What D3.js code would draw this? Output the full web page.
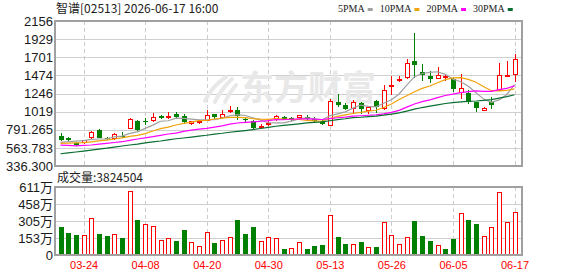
<!DOCTYPE html>
<html>
<head>
<meta charset="utf-8">
<script src="https://cdn.jsdelivr.net/npm/d3@7"></script>
<style>
  body { margin: 0; background: #fff; }
  svg { display: block; }
</style>
</head>
<body>
<div id="chart"></div>
<script>
// Daily candles, one entry per trading day
const dates = [
    "03-19", "03-20", "03-23", "03-24", "03-25", "03-26", "03-27", "03-30", "03-31", "04-01",
    "04-02", "04-08", "04-09", "04-10", "04-13", "04-14", "04-15", "04-16", "04-17", "04-20",
    "04-21", "04-22", "04-23", "04-24", "04-27", "04-28", "04-29", "04-30", "05-04", "05-05",
    "05-06", "05-07", "05-08", "05-11", "05-12", "05-13", "05-14", "05-15", "05-18", "05-19",
    "05-20", "05-21", "05-22", "05-26", "05-27", "05-28", "05-29", "06-01", "06-02", "06-03",
    "06-04", "06-05", "06-08", "06-09", "06-10", "06-11", "06-12", "06-15", "06-16", "06-17"
];
const opens = [
    717, 692, 621, 629, 692, 792, 692, 684, 717, 809,
    901, 905, 910, 964, 951, 995, 970, 872, 876, 910,
    985, 948, 1023, 1043, 930, 905, 826, 855, 930, 955,
    935, 951, 948, 926, 901, 847, 1140, 1098, 1060, 1123,
    1039, 1152, 1060, 1328, 1407, 1450, 1654, 1512, 1466, 1437,
    1450, 1424, 1261, 1256, 1143, 1039, 1136, 1286, 1466, 1487
];
const highs = [
    747, 704, 634, 666, 776, 804, 704, 747, 759, 935,
    910, 935, 998, 976, 1010, 1014, 985, 905, 901, 1039,
    993, 1043, 1089, 1077, 939, 917, 867, 905, 973, 964,
    955, 976, 976, 955, 914, 1181, 1240, 1123, 1165, 1143,
    1080, 1165, 1353, 1466, 1470, 1675, 2009, 1613, 1529, 1579,
    1478, 1437, 1487, 1286, 1143, 1081, 1198, 1633, 1654, 1742
];
const lows = [
    650, 641, 591, 616, 679, 684, 666, 663, 684, 804,
    779, 851, 892, 930, 926, 932, 860, 851, 863, 901,
    930, 935, 1001, 917, 892, 792, 804, 838, 905, 910,
    897, 939, 905, 889, 847, 835, 1073, 1039, 1005, 989,
    985, 998, 1039, 1227, 1387, 1428, 1444, 1403, 1374, 1428,
    1403, 1269, 1177, 1118, 1018, 1030, 1048, 1274, 1457, 1387
];
const closes = [
    666, 662, 604, 654, 759, 692, 675, 734, 700, 926,
    792, 889, 939, 942, 960, 951, 885, 889, 890, 968,
    951, 985, 1039, 960, 917, 809, 835, 872, 960, 912,
    914, 973, 930, 905, 863, 1152, 1106, 1055, 1136, 1055,
    1076, 1073, 1281, 1349, 1424, 1625, 1608, 1478, 1424, 1466,
    1462, 1306, 1311, 1136, 1060, 1064, 1102, 1466, 1478, 1667
];
const volumes = [
    2530000, 1970000, 1790000, 1760000, 3280000, 1880000, 1700000, 1850000, 1520000, 5690000,
    3130000, 2740000, 2560000, 1310000, 1490000, 1250000, 2240000, 1130000, 800000, 2030000,
    1070000, 1310000, 1610000, 3130000, 1880000, 2500000, 1220000, 1610000, 1520000, 540000,
    600000, 1130000, 540000, 800000, 890000, 3550000, 1610000, 980000, 950000, 1160000,
    690000, 720000, 2920000, 1760000, 950000, 1580000, 3040000, 1700000, 1250000, 860000,
    540000, 1430000, 3730000, 3130000, 2770000, 1700000, 2500000, 5600000, 2920000, 3824504
];

// Moving averages as drawn (they start before the first visible candle)
const ma5 = [
    634, 641, 648, 655, 670, 675, 677, 703, 712, 745,
    765, 808, 849, 898, 904, 936, 935, 925, 915, 917,
    917, 937, 967, 981, 970, 942, 912, 879, 878, 878,
    899, 927, 939, 928, 917, 965, 991, 1016, 1062, 1101,
    1085, 1079, 1124, 1167, 1240, 1350, 1457, 1497, 1512, 1519,
    1487, 1427, 1394, 1337, 1256, 1176, 1135, 1166, 1234, 1356
];
const ma10 = [
    621, 624, 627, 630, 640, 652, 662, 675, 690, 708,
    720, 743, 776, 805, 825, 851, 872, 887, 906, 910,
    926, 936, 946, 947, 943, 929, 924, 922, 930, 925,
    921, 920, 909, 903, 898, 932, 959, 978, 995, 1009,
    1025, 1036, 1070, 1115, 1170, 1218, 1269, 1311, 1340, 1381,
    1420, 1443, 1446, 1424, 1388, 1332, 1281, 1280, 1285, 1305
];
const ma20 = [
    598, 594, 590, 594, 600, 610, 621, 631, 641, 658,
    675, 690, 704, 721, 738, 750, 770, 787, 800, 809,
    823, 839, 861, 876, 884, 890, 898, 905, 918, 917,
    923, 928, 927, 925, 920, 930, 942, 950, 962, 967,
    973, 978, 990, 1009, 1034, 1075, 1114, 1144, 1167, 1194,
    1221, 1238, 1257, 1269, 1279, 1274, 1274, 1294, 1311, 1342
];
const ma30 = [
    490, 500, 512, 523, 536, 549, 560, 574, 587, 600,
    611, 626, 640, 650, 664, 678, 688, 699, 712, 722,
    737, 747, 760, 771, 781, 793, 807, 822, 835, 847,
    856, 866, 877, 885, 889, 904, 918, 929, 944, 948,
    957, 963, 974, 988, 1003, 1026, 1050, 1070, 1087, 1104,
    1121, 1132, 1141, 1147, 1152, 1160, 1169, 1189, 1206, 1231
];

const maNames = ["5PMA", "10PMA", "20PMA", "30PMA"];
const priceTicks = [336.3, 563.783, 791.265, 1019, 1246, 1474, 1701, 1929, 2156];
const priceTickLabels = ["336.300", "563.783", "791.265", "1019", "1246", "1474", "1701", "1929", "2156"];
const volumeTicks = [0, 1530000, 3050000, 4580000, 6110000];
const volumeTickLabels = ["0", "153万", "305万", "458万", "611万"];
const dateTicks = ["03-24", "04-08", "04-20", "04-30", "05-13", "05-26", "06-05", "06-17"];

const UP = "#ff0000";
const DOWN = "#008000";
const maColors = ["#a0a0a0", "#f0a30a", "#ff00ff", "#0a6e32"];

function drawChart() {
    const width = 578, height = 276;
    const left = 55, right = 522;
    const priceTop = 21, priceBottom = 166;
    const volTop = 187, volBottom = 255;

    const rows = dates.map((d, i) => ({
        date: d, open: opens[i], high: highs[i], low: lows[i], close: closes[i],
        volume: volumes[i],
        // volume colour follows the previous close
        volUp: i > 0 ? closes[i] >= closes[i - 1] : closes[i] >= opens[i]
    }));

    const x = d3.scalePoint().domain(dates).range([60.5, 514.5]);
    const y = d3.scaleLinear().domain([336.3, 2156]).range([priceBottom, priceTop]);
    const yVol = d3.scaleLinear().domain([0, 6110000]).range([volBottom, volTop]);
    const cx = d => Math.round(x(d));

    const svg = d3.select("#chart").html("")
        .append("svg")
        .attr("width", width)
        .attr("height", height)
        .style("font-family", "'Liberation Sans', Arial, sans-serif");

    // Grid lines
    const grid = svg.append("g").attr("shape-rendering", "crispEdges");
    grid.selectAll(".hp").data(priceTicks.slice(1, -1)).join("line")
        .attr("x1", left).attr("x2", right)
        .attr("y1", d => Math.round(y(d)) + 0.5).attr("y2", d => Math.round(y(d)) + 0.5)
        .attr("stroke", "#cfcfcf");
    grid.selectAll(".hv").data(volumeTicks.slice(1, -1)).join("line")
        .attr("x1", left).attr("x2", right)
        .attr("y1", d => Math.round(yVol(d)) + 0.5).attr("y2", d => Math.round(yVol(d)) + 0.5)
        .attr("stroke", "#cfcfcf");
    [[priceTop, priceBottom], [volTop, volBottom]].forEach(([t, b]) => {
        grid.append("g").selectAll("line").data(dateTicks).join("line")
            .attr("x1", d => cx(d) + 0.5).attr("x2", d => cx(d) + 0.5)
            .attr("y1", t).attr("y2", b)
            .attr("stroke", "#cccccc")
            .attr("stroke-dasharray", "4,3");
    });

    // Watermark
    const wm = svg.append("g").attr("fill", "none").attr("stroke", "#e8e8e8")
        .attr("stroke-width", 4).attr("stroke-linecap", "round");
    wm.append("path").attr("d", "M226 77 Q212 86 205 101");
    wm.append("path").attr("d", "M232 79 Q221 89 215 102");
    wm.append("path").attr("d", "M236 85 Q229 93 225 102");
    svg.append("text")
        .attr("x", 240).attr("y", 100)
        .attr("fill", "#e8e8e8")
        .style("font-family", "'Noto Sans CJK SC', sans-serif")
        .style("font-size", "34px")
        .style("font-weight", "bold")
        .text("东方财富");

    // Candles
    const candles = svg.append("g").attr("shape-rendering", "crispEdges");
    const candle = candles.selectAll("g").data(rows).join("g");
    candle.append("line")
        .attr("x1", d => cx(d.date) + 0.5).attr("x2", d => cx(d.date) + 0.5)
        .attr("y1", d => y(d.high)).attr("y2", d => y(d.low))
        .attr("stroke", d => d.close > d.open ? UP : DOWN);
    candle.append("rect")
        .attr("x", d => d.close > d.open ? cx(d.date) - 1.5 : cx(d.date) - 2)
        .attr("y", d => y(Math.max(d.open, d.close)))
        .attr("width", d => d.close > d.open ? 4 : 5)
        .attr("height", d => Math.max(1, Math.abs(y(d.open) - y(d.close))))
        .attr("fill", d => d.close > d.open ? "#fff" : DOWN)
        .attr("stroke", d => d.close > d.open ? UP : "none");

    // Moving averages
    const line = d3.line().x((d, i) => x(dates[i])).y(d => y(d));
    svg.append("g").selectAll("path").data([ma5, ma10, ma20, ma30]).join("path")
        .attr("d", line)
        .attr("fill", "none")
        .attr("stroke", (d, i) => maColors[i])
        .attr("stroke-width", 1.2);

    // Volume bars
    svg.append("g").attr("shape-rendering", "crispEdges")
        .selectAll("rect").data(rows).join("rect")
        .attr("x", d => d.volUp ? cx(d.date) - 1.5 : cx(d.date) - 2)
        .attr("y", d => yVol(d.volume))
        .attr("width", d => d.volUp ? 4 : 5)
        .attr("height", d => yVol(0) - yVol(d.volume))
        .attr("fill", d => d.volUp ? "#fff" : DOWN)
        .attr("stroke", d => d.volUp ? UP : "none");

    // Frames
    const frame = svg.append("g").attr("fill", "none").attr("stroke", "#a0a0a0")
        .attr("stroke-width", 2).attr("shape-rendering", "crispEdges");
    frame.append("rect").attr("x", left).attr("y", priceTop)
        .attr("width", right - left).attr("height", priceBottom - priceTop);
    frame.append("rect").attr("x", left).attr("y", volTop)
        .attr("width", right - left).attr("height", volBottom - volTop);

    // Axes
    const priceAxis = svg.append("g")
        .attr("transform", `translate(${left},0)`)
        .call(d3.axisLeft(y).tickValues(priceTicks)
            .tickFormat((d, i) => priceTickLabels[i]).tickSize(0).tickPadding(2));
    const volAxis = svg.append("g")
        .attr("transform", `translate(${left},0)`)
        .call(d3.axisLeft(yVol).tickValues(volumeTicks)
            .tickFormat((d, i) => volumeTickLabels[i]).tickSize(0).tickPadding(2));
    [priceAxis, volAxis].forEach(g => {
        g.select(".domain").remove();
        g.selectAll("text")
            .attr("fill", "#1a1a1a")
            .style("font-family", "'Liberation Sans', 'Noto Sans CJK SC', sans-serif")
            .style("font-size", "13px");
    });

    const dateAxis = svg.append("g")
        .attr("transform", `translate(0,${volBottom})`)
        .call(d3.axisBottom(x).tickValues(dateTicks).tickSize(0).tickPadding(6));
    dateAxis.select(".domain").remove();
    dateAxis.selectAll("text")
        .attr("fill", UP)
        .style("font-family", "'Liberation Sans', sans-serif")
        .style("font-size", "11px");

    // Title and volume caption
    svg.append("text")
        .attr("x", 56).attr("y", 12.5)
        .attr("fill", "#222")
        .style("font-family", "'Noto Sans CJK SC', sans-serif")
        .style("font-size", "12px")
        .text("智谱[02513] 2026-06-17 16:00");
    svg.append("text")
        .attr("x", 57).attr("y", 181.5)
        .attr("fill", "#222")
        .style("font-family", "'Noto Sans CJK SC', sans-serif")
        .style("font-size", "12px")
        .text("成交量:" + volumes[volumes.length - 1]);

    // Legend
    let lx = 338;
    maNames.forEach((name, i) => {
        const t = svg.append("text")
            .attr("x", lx).attr("y", 12)
            .attr("fill", "#222")
            .style("font-family", "'Liberation Serif', serif")
            .style("font-size", "10px")
            .text(name);
        const w = t.node().getComputedTextLength();
        svg.append("rect")
            .attr("x", lx + w + 3).attr("y", 8)
            .attr("width", 5).attr("height", 3)
            .attr("fill", maColors[i]);
        lx += w + 3 + 5 + 7;
    });
}

drawChart();
</script>
</body>
</html>
